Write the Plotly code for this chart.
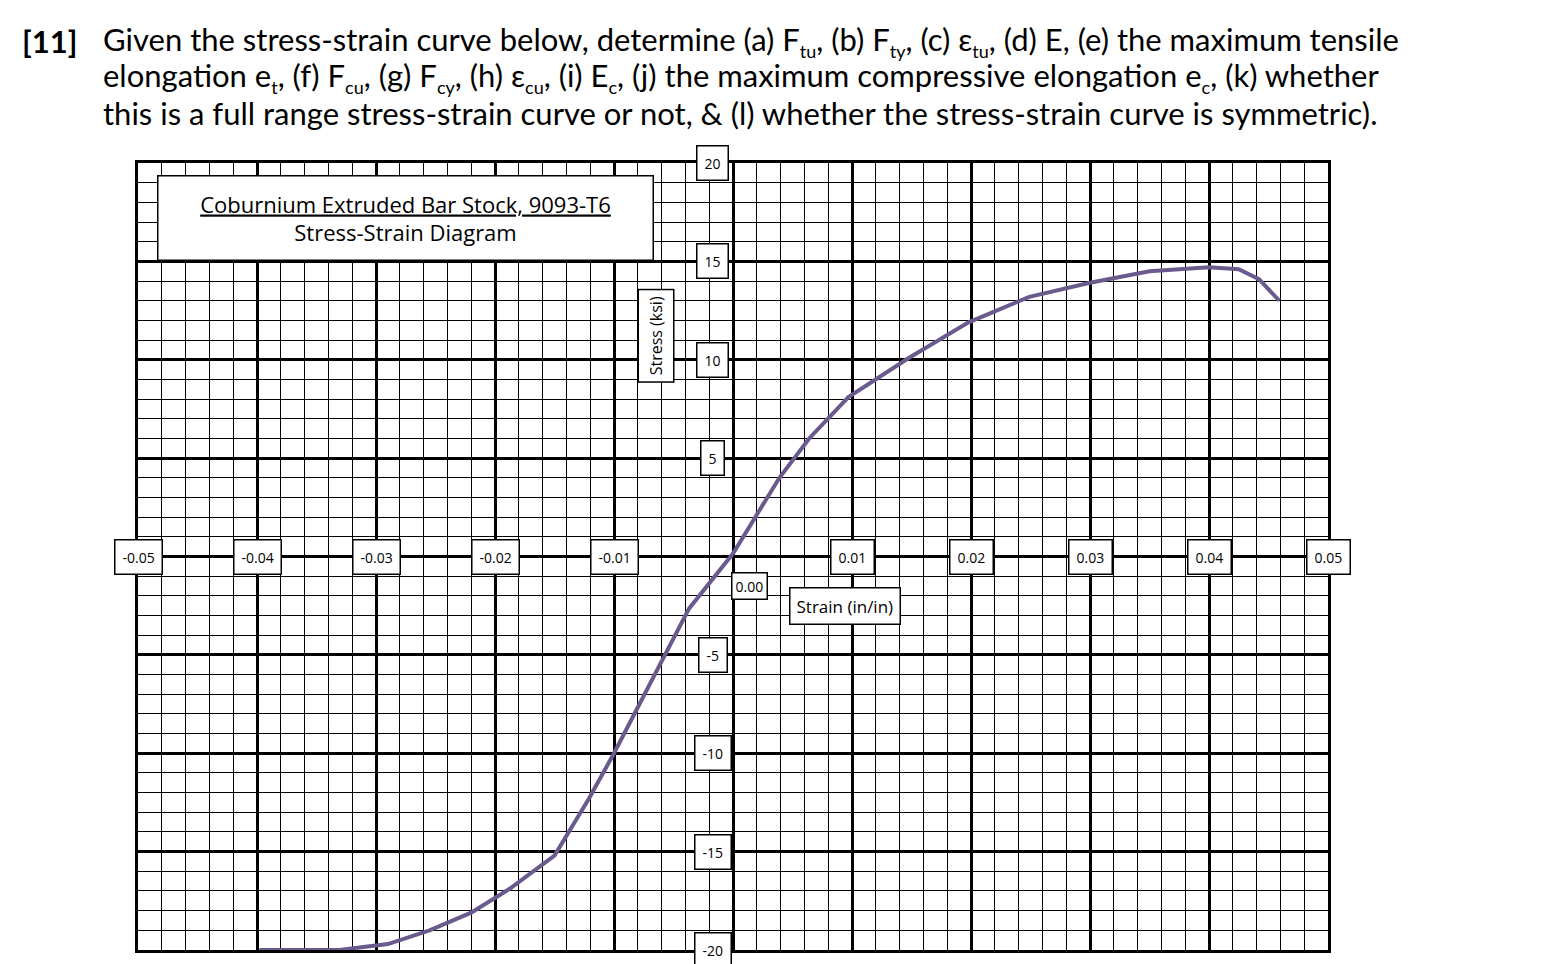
import plotly.graph_objects as go

strain = [-0.0398, -0.0331, -0.0290, -0.0255, -0.0220, -0.0188, -0.0150, -0.0121, -0.0100,
          -0.0070, -0.0037, 0.0000, 0.0039, 0.0064, 0.0097, 0.0148, 0.0198, 0.0249,
          0.0299, 0.0350, 0.0400, 0.0425, 0.0442, 0.0459]
stress = [-20.0, -20.0, -19.7, -19.0, -18.1, -16.9, -15.2, -12.3, -10.0,
          -6.5, -2.65, 0.15, 4.0, 6.0, 8.1, 10.1, 11.9, 13.2,
          13.9, 14.5, 14.7, 14.6, 14.1, 13.0]
xticks = [-0.05, -0.04, -0.03, -0.02, -0.01, 0.01, 0.02, 0.03, 0.04, 0.05]
xlabels = ["-0.05", "-0.04", "-0.03", "-0.02", "-0.01", "0.01", "0.02", "0.03", "0.04", "0.05"]
yticks = [20, 15, 10, 5, -5, -10, -15, -20]

fig = go.Figure()
fig.add_trace(go.Scatter(x=strain, y=stress, mode="lines", line=dict(color="#6a5a8e", width=4),
                         showlegend=False, hoverinfo="skip"))

F = "Open Sans"
box = dict(bgcolor="white", bordercolor="black", borderwidth=1.5, showarrow=False,
           font=dict(family=F, size=14, color="black"))
ann = []
for v, t in zip(xticks, xlabels):
    ann.append(dict(x=v, y=0, xref="x", yref="y", text=t, borderpad=7, **box))
ann.append(dict(x=-0.0002, y=-0.8, xref="x", yref="y", text="0.00", xanchor="left", yanchor="top", borderpad=3, **box))
for v in yticks:
    ann.append(dict(x=-0.0017, y=v, xref="x", yref="y", text=str(v), borderpad=7, **box))
ann.append(dict(x=0.0094, y=-2.5, xref="x", yref="y", text="Strain (in/in)", borderpad=6,
                **{**box, "font": dict(family=F, size=17, color="black")}))
ann.append(dict(x=-0.0065, y=11.2, xref="x", yref="y", text="Stress (ksi)", textangle=-90, borderpad=6,
                **{**box, "font": dict(family=F, size=16, color="black")}))
ann.append(dict(x=-0.0275, y=17.2, xref="x", yref="y",
                text="<u>Coburnium Extruded Bar Stock, 9093-T6</u><br>Stress-Strain Diagram",
                borderpad=12, width=470, **{**box, "font": dict(family=F, size=22, color="black")}))

PH, PW = 964 - 155 - 22, 1542 - 130 - 222
def px(x): return (x - 130) / PW
def py(y): return 1 + (155 - y) / PH
def s(t): return "<sub><span style='font-size:18px'>" + t + "</span></sub>"
lines = [
    "Given the stress-strain curve below, determine (a) F" + s("tu") + ", (b) F" + s("ty") + ", (c) ε" + s("tu") + ", (d) E, (e) the maximum tensile",
    "elongation e" + s("t") + ", (f) F" + s("cu") + ", (g) F" + s("cy") + ", (h) ε" + s("cu") + ", (i) E" + s("c") + ", (j) the maximum compressive elongation e" + s("c") + ", (k) whether",
    "this is a full range stress-strain curve or not, &amp; (l) whether the stress-strain curve is symmetric).",
]
tf = dict(family="Lato", size=31, color="black")
ann.append(dict(x=px(12), y=py(33), xref="paper", yref="paper", xanchor="left", yanchor="middle",
                showarrow=False, text="<b>[11]</b>", font=tf))
for i, t in enumerate(lines):
    ann.append(dict(x=px(93), y=py(33 + 36 * i), xref="paper", yref="paper", xanchor="left", yanchor="middle",
                    showarrow=False, text=t, font=tf))

ax = dict(showticklabels=False, ticks="", showgrid=True, gridcolor="black", gridwidth=3,
          zeroline=True, zerolinecolor="black", zerolinewidth=3,
          showline=True, mirror=True, linecolor="black", linewidth=3,
          minor=dict(showgrid=True, gridcolor="black", gridwidth=1.3))
fig.update_xaxes(range=[-0.05, 0.05], dtick=0.01, minor_dtick=0.002, **ax)
fig.update_yaxes(range=[-20, 20], dtick=5, minor_dtick=1, **ax)
fig.update_layout(width=1542, height=964, margin=dict(l=130, r=222, t=155, b=22),
                  plot_bgcolor="white", paper_bgcolor="white", annotations=ann)
fig.write_html("out.html")
